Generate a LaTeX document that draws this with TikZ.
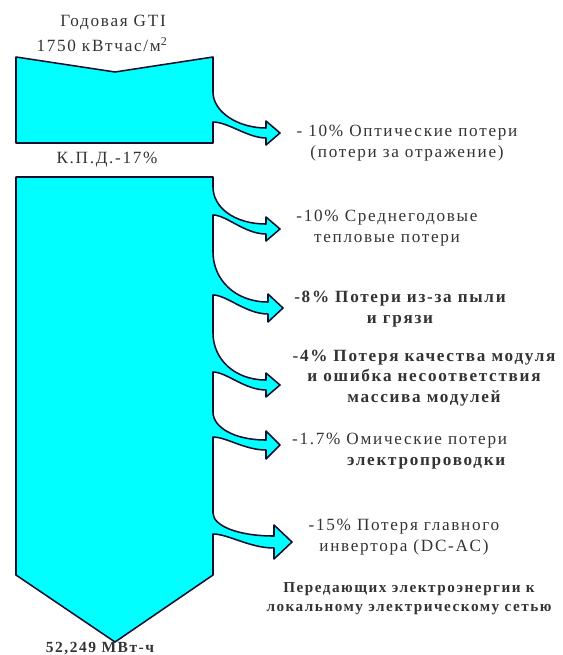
\documentclass[tikz,border=0pt]{standalone}
\usepackage{fontspec}
\setmainfont[LetterSpace=10]{Liberation Serif}
\definecolor{Flow}{HTML}{00FFFF}
\definecolor{Edge}{HTML}{101030}
\definecolor{Ink}{HTML}{333333}
\begin{document}
\begin{tikzpicture}[x=0.025cm,y=-0.025cm,line join=round,every node/.style={font=\fontsize{12.2}{14.5}\selectfont,text=Ink,align=center},flow/.style={fill=Flow,draw=Edge,line width=1.1pt}]
\useasboundingbox (0,0) rectangle (563,655);
% incoming block, optical loss
\draw[flow] (16,57)--(115,72)--(213,57)--(213,92) .. controls (213,112) and (238,128) .. (266,128)--(266,121)--(280,133)--(266,145)--(266,138) .. controls (248,138) and (228,122) .. (213,122)--(213,143)--(16,143)--cycle;
% main column, one arrow per loss
\draw[flow] (16,177)--(213,177) \foreach \a/\b/\x/\t/\y/\h/\w in {187/215/266/280/229/12/5,252/295/268/283/308/14/6,333/372/266/280/385/12/5,412/437/266/280/445/14/5,513/534/274/292/542/17/6}{--(213,\a) .. controls (213,{\a+0.55*(\y-\w-\a)}) and ({213+0.4*(\x-213)},{\y-\w}) .. (\x,{\y-\w})--(\x,{\y-\h})--(\t,\y)--(\x,{\y+\h})--(\x,{\y+\w}) .. controls ({213+0.6*(\x-213)},{\y+\w}) and ({213+0.25*(\x-213)},\b) .. (213,\b)} --(213,575)--(115,642)--(16,575)--cycle;
\node (gti) at (113,22){Годовая GTI}; \node (dose) at (102,45){1750 кВтчас/м\textsuperscript{2}};
\node (kpd) at (107,160){К.П.Д.-17\%};
\node (opt) at (407,143){- 10\% Оптические потери\\(потери за отражение)};
\node (heat) at (387,228){-10\% Среднегодовые\\тепловые потери};
\node[font=\fontsize{12.2}{14.5}\selectfont\bfseries] (dust) at (400,309){-8\% Потери из-за пыли\\и грязи};
\node[font=\fontsize{12.2}{14.5}\selectfont\bfseries] (mism) at (424,378){-4\% Потеря качества модуля\\и ошибка несоответствия\\массива модулей};
\node[align=right,anchor=east] (ohm) at (512,451){-1.7\% Омические потери\\\textbf{электропроводки}};
\node (inv) at (404,537){-15\% Потеря главного\\инвертора (DC-AC)};
\node[font=\fontsize{10.8}{13.5}\selectfont\bfseries] (grid) at (409,599){Передающих электроэнергии к\\локальному электрическому сетью};
\node[font=\fontsize{11}{13}\selectfont\bfseries] (out) at (100,649){52,249 МВт-ч};
\end{tikzpicture}
\end{document}
